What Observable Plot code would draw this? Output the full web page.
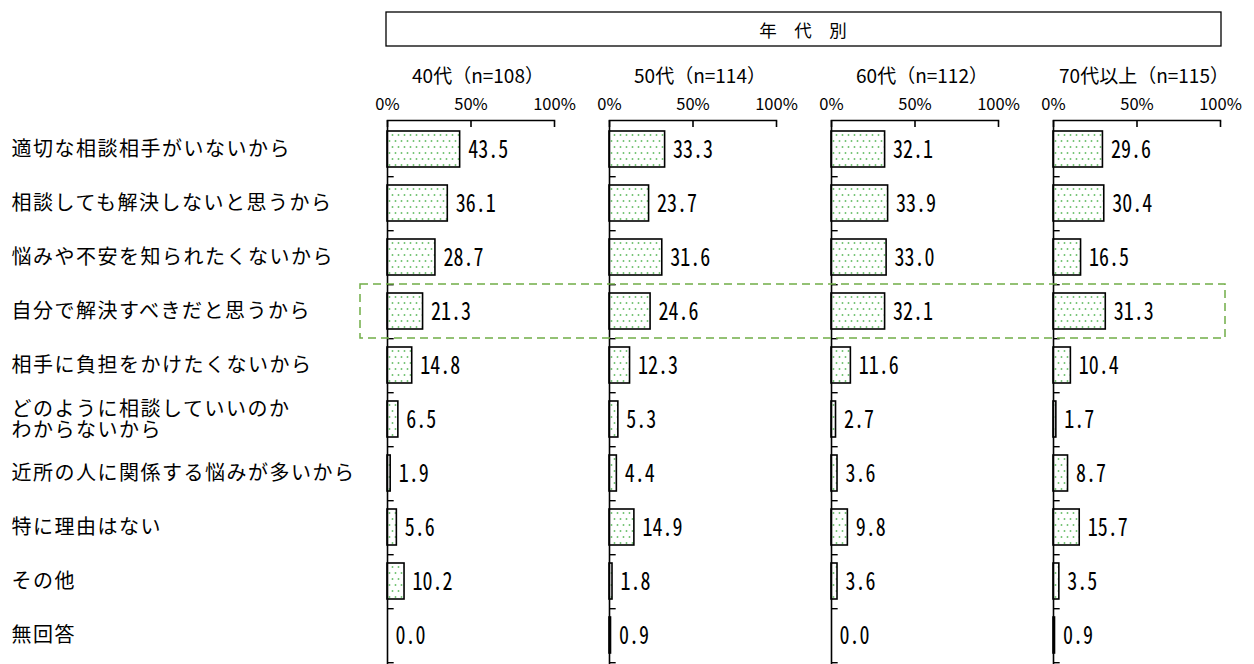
<!DOCTYPE html>
<html><head><meta charset="utf-8">
<script src="https://cdn.jsdelivr.net/npm/d3@7"></script>
<script src="https://cdn.jsdelivr.net/npm/@observablehq/plot@0.6"></script>
<style>
body{margin:0;background:#fff;}
#chart svg{display:block;}
</style>
</head><body><div id="chart"></div>
<script>
// ---- data ----
const reasons = [
  "適切な相談相手がいないから",
  "相談しても解決しないと思うから",
  "悩みや不安を知られたくないから",
  "自分で解決すべきだと思うから",
  "相手に負担をかけたくないから",
  "どのように相談していいのか\nわからないから",
  "近所の人に関係する悩みが多いから",
  "特に理由はない",
  "その他",
  "無回答"
];
const ageGroups = ["40代", "50代", "60代", "70代以上"];
const sampleSizes = [108, 114, 112, 115];
const values40 = [43.5, 36.1, 28.7, 21.3, 14.8, 6.5, 1.9, 5.6, 10.2, 0.0];
const values50 = [33.3, 23.7, 31.6, 24.6, 12.3, 5.3, 4.4, 14.9, 1.8, 0.9];
const values60 = [32.1, 33.9, 33.0, 32.1, 11.6, 2.7, 3.6, 9.8, 3.6, 0.0];
const values70 = [29.6, 30.4, 16.5, 31.3, 10.4, 1.7, 8.7, 15.7, 3.5, 0.9];
const xTicks = [0, 50, 100];
const headerText = "年　代　別";
const highlighted = "自分で解決すべきだと思うから";

(function () {
// ---- build table ----
const seriesByAge = [values40, values50, values60, values70];
const rows = ageGroups.flatMap((g, gi) =>
  reasons.map((r, ri) => ({group: g, reason: r, value: seriesByAge[gi][ri]})));
const groupLabel = new Map(ageGroups.map((g, i) => [g, `${g}（n=${sampleSizes[i]}）`]));

const W = 1254, H = 664;
const mL = 386, mR = 34, mT = 120, mB = 0;
const pIn = 0.34, pOut = 0.17;
const step = (H - mT - mB) / (reasons.length - pIn + 2 * pOut);

const jp = '"Noto Sans CJK JP", "Noto Sans", sans-serif';
const mono = '"Noto Sans Mono CJK JP", "Noto Sans CJK JP", "Liberation Mono", monospace';

const plot = Plot.plot({
  width: W, height: H,
  marginLeft: mL, marginRight: mR, marginTop: mT, marginBottom: mB,
  style: {fontFamily: jp, color: "#000", background: "#fff", overflow: "visible"},
  fx: {domain: ageGroups, paddingInner: 0.248, paddingOuter: 0, label: null},
  x: {domain: [0, 100], label: null},
  y: {domain: reasons, paddingInner: pIn, paddingOuter: pOut, label: null},
  marks: [
    Plot.barX(rows, {fx: "group", y: "reason", x: "value",
      fill: "url(#dots)", stroke: "#000", strokeWidth: 1.6}),
    Plot.text(rows, {fx: "group", y: "reason", x: "value",
      text: d => d.value.toFixed(1), textAnchor: "start", dx: 8,
      fontSize: 20, fontFamily: mono, fill: "#000"}),
    Plot.ruleX([0], {stroke: "#000", strokeWidth: 1.6}),
    Plot.ruleY(reasons, {x1: 0, x2: 4, dy: step / 2, stroke: "#000", strokeWidth: 1.4}),
    Plot.frame({anchor: "top", stroke: "#000", strokeWidth: 1.6}),
    Plot.axisX(xTicks, {anchor: "top", tickSize: -6, tickPadding: 17,
      tickFormat: d => d + "%", fontSize: 16.5, strokeWidth: 1.6, label: null}),
    Plot.axisY({tickSize: 0, tickPadding: mL - 10, textAnchor: "start",
      fontSize: 20, lineHeight: 1.05, label: null}),
    Plot.axisFx({anchor: "top", tickSize: 0, tickPadding: 38, dx: 7,
      tickFormat: g => groupLabel.get(g), fontSize: 19, label: null})
  ]
});

const svg = d3.select(plot);
svg.selectAll('g[aria-label="y-axis tick label"] text').style("letter-spacing", "1.5px");

// taller, narrow-looking digits for the value labels
svg.selectAll('g[aria-label="text"] text').each(function () {
  const t = d3.select(this);
  const tr = t.attr("transform");
  if (tr) t.attr("transform", tr + " scale(1,1.28)");
  else {
    const x = t.attr("x") || 0, y = t.attr("y") || 0;
    t.attr("x", null).attr("y", null).attr("transform", `translate(${x},${y}) scale(1,1.28)`);
  }
});

// pattern
const defs = svg.insert("defs", ":first-child");
const pat = defs.append("pattern").attr("id", "dots")
  .attr("patternUnits", "userSpaceOnUse").attr("width", 6).attr("height", 12);
pat.append("rect").attr("width", 6).attr("height", 12).attr("fill", "#fff");
pat.append("circle").attr("cx", 1.5).attr("cy", 3).attr("r", 0.95).attr("fill", "#6cc06c");
pat.append("circle").attr("cx", 4.5).attr("cy", 9).attr("r", 0.95).attr("fill", "#6cc06c");

// header box
const left = mL, right = W - mR;
svg.append("rect").attr("x", left).attr("y", 12).attr("width", right - left + 1).attr("height", 34)
  .attr("fill", "none").attr("stroke", "#000").attr("stroke-width", 1.3);
svg.append("text").attr("x", (left + right) / 2).attr("y", 29)
  .attr("text-anchor", "middle").attr("dominant-baseline", "central")
  .attr("font-size", 17.5).attr("font-family", jp).text(headerText);

// highlight box from y scale
const ys = plot.scale("y");
const bw = ys.bandwidth ?? step * (1 - pIn);
const st = ys.step ?? step;
const boxTop = ys.apply(highlighted) - (st - bw) / 2;
svg.append("rect").attr("x", left - 26).attr("y", boxTop)
  .attr("width", right - left + 31).attr("height", st)
  .attr("fill", "none").attr("stroke", "#70ad47").attr("stroke-width", 1.5)
  .attr("stroke-dasharray", "8,5");

document.getElementById("chart").appendChild(plot);
})();
</script>
</body></html>
